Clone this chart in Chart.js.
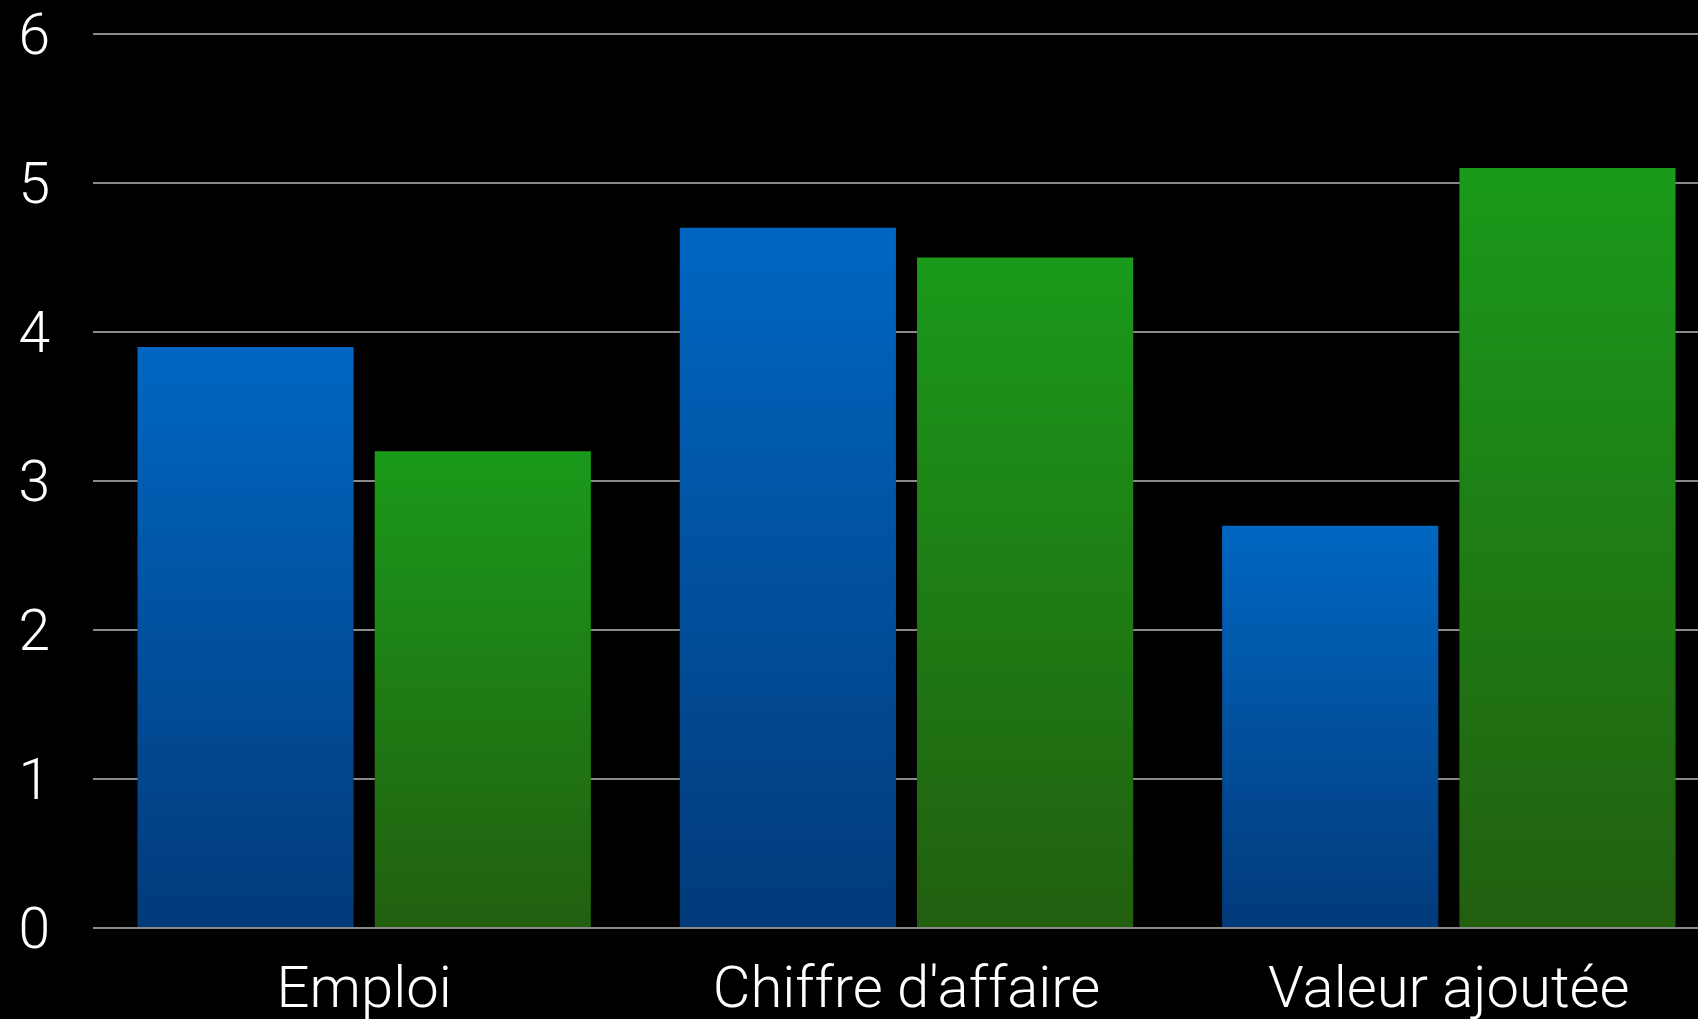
<!DOCTYPE html>
<html>
<head>
<meta charset="utf-8">
<script src="https://cdn.jsdelivr.net/npm/chart.js@4.4.1/dist/chart.umd.min.js"></script>
<style>
html,body{margin:0;padding:0;background:#000;overflow:hidden;}
#wrap{position:absolute;left:0;top:0;width:1720px;height:1019px;}
</style>
</head>
<body>
<div id="wrap"><canvas id="c"></canvas></div>
<script>
const categories = ["Emploi", "Chiffre d'affaire", "Valeur ajoutée"];
const seriesBlue = [3.9, 4.7, 2.7];
const seriesGreen = [3.2, 4.5, 5.1];
const yTicks = [0, 1, 2, 3, 4, 5, 6];

function grad(top, bottom) {
  return function(ctx) {
    const chart = ctx.chart;
    if (!chart.chartArea || ctx.raw === undefined) return top;
    const y = chart.scales.y;
    const y0 = y.getPixelForValue(ctx.raw);
    const y1 = y.getPixelForValue(0);
    const g = chart.ctx.createLinearGradient(0, y0, 0, y1);
    g.addColorStop(0, top);
    g.addColorStop(1, bottom);
    return g;
  };
}

const FONT = "Roboto";
new Chart(document.getElementById('c'), {
  type: 'bar',
  data: {
    labels: categories,
    datasets: [
      { label: 'A', data: seriesBlue, backgroundColor: grad('#0067c2', '#023a7a') },
      { label: 'B', data: seriesGreen, backgroundColor: grad('#1a9a1a', '#225f0f') }
    ]
  },
  options: {
    responsive: true,
    maintainAspectRatio: false,
    animation: false,
    events: [],
    categoryPercentage: 0.875,
    barPercentage: 0.911,
    layout: { padding: { top: 34, left: 0, right: 0, bottom: 0 } },
    plugins: { legend: { display: false }, tooltip: { enabled: false } },
    scales: {
      x: {
        grid: { display: false },
        border: { display: false },
        afterFit: s => { s.height = 91; s.paddingLeft = 0; s.paddingRight = 0; },
        ticks: { color: '#fff', font: { family: FONT, size: 58, weight: 300 }, padding: 22, maxRotation: 0, autoSkip: false }
      },
      y: {
        min: 0, max: 6,
        afterBuildTicks: s => { s.ticks = yTicks.map(v => ({ value: v })); },
        afterFit: s => { s.width = 93; s.paddingTop = 0; s.paddingBottom = 0; },
        grid: { color: '#8a8a8a', lineWidth: 2, drawTicks: false },
        border: { display: false },
        ticks: { color: '#fff', font: { family: FONT, size: 57, weight: 300 }, padding: 43, labelOffset: 6 }
      }
    }
  }
});
</script>
</body>
</html>
